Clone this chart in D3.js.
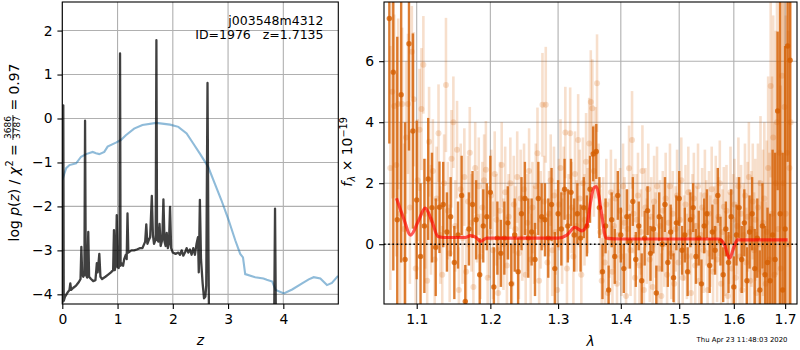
<!DOCTYPE html>
<html><head><meta charset="utf-8">
<script src="https://cdn.jsdelivr.net/npm/d3@7"></script>
<style>body{margin:0;background:#fff} text{font-family:"DejaVu Sans",sans-serif;fill:#000}</style>
</head><body><svg id="c" width="800" height="350"></svg>
<script>
// ---------- Left panel: log p(z) ----------
const zP = [0,0.010,0.018,0.026,0.05,0.10,0.13,0.145,0.16,0.20,0.25,0.30,0.33,0.345,0.36,0.38,0.40,0.412,0.425,0.45,0.47,0.485,0.52,0.56,0.60,0.625,0.64,0.67,0.69,0.72,0.78,0.83,0.88,0.92,0.935,0.95,0.97,0.985,1.00,1.02,1.035,1.045,1.055,1.08,1.10,1.12,1.15,1.165,1.18,1.195,1.25,1.30,1.35,1.40,1.45,1.50,1.52,1.54,1.57,1.59,1.62,1.64,1.66,1.69,1.703,1.715,1.74,1.76,1.78,1.81,1.83,1.85,1.87,1.89,1.91,1.93,1.95,1.97,2.00,2.05,2.10,2.13,2.16,2.19,2.22,2.25,2.28,2.31,2.34,2.37,2.40,2.43,2.455,2.47,2.49,2.51,2.54,2.565,2.59,2.605,2.628,2.645,2.665,2.70,3.80,3.835,3.85,3.865,3.90,5.0];
const logP = [-4.20,-4.15,0.30,-4.15,-4.05,-3.95,-3.90,-3.75,-3.90,-3.85,-3.80,-3.72,-3.65,-2.92,-3.55,-3.60,-3.55,-0.05,-3.55,-3.62,-2.58,-3.60,-3.65,-3.70,-3.68,-3.29,-3.50,-3.08,-3.60,-3.65,-3.60,-3.55,-3.50,-3.45,-2.54,-3.45,-3.30,-2.20,-3.38,-3.40,-3.30,1.48,-3.35,-3.30,-3.35,-3.20,-3.10,-3.20,-2.16,-3.05,-3.00,-3.00,-2.98,-2.95,-2.95,-2.80,-2.41,-2.85,-2.75,-2.70,-1.76,-2.65,-2.85,-2.75,1.78,-2.75,-2.80,-2.40,-2.90,-2.75,-1.84,-2.80,-2.90,-2.60,-2.95,-2.85,-2.01,-2.95,-3.05,-3.08,-3.05,-3.10,-3.00,-3.12,-3.05,-2.95,-3.05,-2.98,-3.10,-2.95,-3.10,-2.85,-2.70,-3.50,-1.85,-3.20,-3.75,-4.09,-4.05,-3.80,0.81,-3.0,-6.0,-9,-9,-4.5,-2.05,-4.5,-9,-9];
const zC = [0.0,0.07,0.13,0.25,0.34,0.43,0.55,0.61,0.67,0.76,0.82,0.97,1.06,1.15,1.30,1.45,1.70,1.95,2.10,2.25,2.37,2.49,2.64,2.76,2.88,3.01,3.13,3.22,3.27,3.31,3.49,3.64,3.70,3.80,3.86,4.01,4.16,4.34,4.46,4.55,4.67,4.79,4.88,4.99];
const chiC = [-1.40,-1.13,-1.06,-1.02,-0.87,-0.81,-0.76,-0.79,-0.81,-0.76,-0.64,-0.55,-0.49,-0.38,-0.23,-0.15,-0.10,-0.14,-0.19,-0.34,-0.57,-0.80,-1.10,-1.48,-1.86,-2.31,-2.77,-3.08,-3.16,-3.54,-3.61,-3.64,-3.67,-3.71,-3.90,-3.98,-3.89,-3.75,-3.66,-3.61,-3.64,-3.79,-3.74,-3.58];
const zTicks = [0,1,2,3,4];
const pTicks = [-4,-3,-2,-1,0,1,2];

// ---------- Right panel: spectrum ----------
const lamD = [1.065,1.070,1.075,1.080,1.085,1.090,1.095,1.100,1.105,1.110,1.115,1.120,1.125,1.130,1.135,1.140,1.145,1.150,1.155,1.160,1.165,1.170,1.175,1.180,1.185,1.190,1.195,1.200,1.205,1.210,1.215,1.220,1.225,1.230,1.235,1.240,1.245,1.250,1.255,1.260,1.265,1.270,1.275,1.280,1.285,1.290,1.295,1.300,1.305,1.310,1.315,1.320,1.325,1.330,1.335,1.340,1.345,1.350,1.355,1.360,1.365,1.370,1.375,1.380,1.385,1.390,1.395,1.400,1.405,1.410,1.415,1.420,1.425,1.430,1.435,1.440,1.445,1.450,1.455,1.460,1.465,1.470,1.475,1.480,1.485,1.490,1.495,1.500,1.505,1.510,1.515,1.520,1.525,1.530,1.535,1.540,1.545,1.550,1.555,1.560,1.565,1.570,1.575,1.580,1.585,1.590,1.595,1.600,1.605,1.610,1.615,1.620,1.625,1.630,1.635,1.640,1.645,1.650,1.655,1.660,1.665,1.670,1.675,1.680,1.685,1.690,1.695,1.700,1.705,1.710];
const fluxD = [7.4,5.64,0.8,4.9,-0.5,6.57,3.71,1.45,-0.4,0.6,2.14,1.2,-0.1,1.21,1.3,0.4,0.9,-0.6,0.3,1.6,-1.88,0.5,1.3,0.8,-1.0,0.6,0.9,1.7,-1.4,0.2,-0.3,0.2,0.7,-1.3,0.3,-0.9,1.0,1.5,0.2,0.4,-0.5,1.5,0.9,0.8,0.2,1.3,-0.8,1.0,0.5,1.8,0.6,1.7,0.3,1.0,0.2,1.2,0.6,1.8,2.96,3.04,1.2,-0.9,0.6,-1.5,0.8,-0.4,1.6,0.3,-0.8,0.9,0.1,1.4,-0.5,0.6,-1.2,0.2,1.1,-0.3,0.5,-1.6,0.9,0.0,1.3,-0.6,0.4,-1.1,0.7,1.5,-0.2,0.3,-0.9,0.8,1.2,-0.4,0.2,-1.3,0.6,1.0,-0.7,0.4,-0.2,1.6,0.1,-1.0,0.5,-0.6,0.9,-1.4,0.3,1.2,-0.5,0.7,-1.2,0.4,1.0,-0.8,0.2,-1.5,0.6,-1.0,-0.6,-1.2,0.3,-0.5,4.37,1.0,-1.5,0.5,6.5,6.03];
const errD = [4.1,6.5,6.0,5.5,4.5,3.5,3.2,2.6,2.4,2.2,2.0,1.8,1.6,1.5,1.4,1.3,1.3,1.2,1.1,1.3,1.2,1.2,1.1,1.3,1.2,1.2,1.1,1.2,1.3,1.2,1.1,1.2,1.2,1.3,1.2,1.1,1.2,1.2,1.3,1.1,1.2,1.2,1.1,1.2,1.3,1.2,1.2,1.1,1.2,1.0,1.2,1.1,1.2,1.0,1.1,1.0,1.0,1.1,0.9,0.9,1.0,0.9,0.9,0.8,0.9,0.9,0.8,0.9,0.8,0.9,0.9,0.8,0.9,0.8,0.9,0.9,0.8,0.9,0.8,0.9,0.8,0.9,0.9,0.8,0.9,0.8,0.9,0.9,0.8,0.9,0.8,0.9,0.8,0.9,0.9,0.8,0.9,0.8,0.9,0.9,0.8,0.9,0.8,0.9,0.9,1.0,0.9,1.0,1.0,1.0,1.1,1.1,1.1,1.2,1.2,1.3,1.3,1.3,1.4,1.6,1.8,2.2,2.8,3.5,2.6,7.5,4.5,6.0,3.8,8.0];
const lamL = [1.0662,1.0687,
1.0712,1.0737,1.0762,1.0787,1.0812,1.0837,1.0862,1.0887,1.0912,1.0937,1.0962,1.0987,
1.1012,1.1037,1.1062,1.1087,1.1112,1.1137,1.1162,1.1187,1.1212,1.1237,1.1262,1.1287,1.1312,1.1337,1.1362,1.1387,1.1412,1.1437,1.1462,1.1487,1.1512,1.1537,1.1562,1.1587,1.1612,1.1637,1.1662,1.1687,1.1712,1.1737,1.1762,1.1787,1.1812,1.1837,1.1862,1.1887,1.1912,1.1937,1.1962,1.1987,
1.2012,1.2037,1.2062,1.2087,1.2112,1.2137,1.2162,1.2187,1.2212,1.2237,1.2262,1.2287,1.2312,1.2337,1.2362,1.2387,1.2412,1.2437,1.2462,1.2487,1.2512,1.2537,1.2562,1.2587,1.2612,1.2637,1.2662,1.2687,1.2712,1.2737,1.2762,1.2787,1.2812,1.2837,1.2862,1.2887,1.2912,1.2937,1.2962,1.2987,
1.3012,1.3037,1.3062,1.3087,1.3112,1.3137,1.3162,1.3187,1.3212,1.3237,1.3262,1.3287,1.3312,1.3337,1.3362,1.3387,1.3412,1.3437,1.3462,1.3487,1.3512,1.3537,1.3562,1.3587,1.3612,1.3637,1.3662,1.3687,1.3712,1.3737,1.3762,1.3787,1.3812,1.3837,1.3862,1.3887,1.3912,1.3937,1.3962,1.3987,
1.4012,1.4037,1.4062,1.4087,1.4112,1.4137,1.4162,1.4187,1.4212,1.4237,1.4262,1.4287,1.4312,1.4337,1.4362,1.4387,1.4412,1.4437,1.4462,1.4487,1.4512,1.4537,1.4562,1.4587,1.4612,1.4637,1.4662,1.4687,1.4712,1.4737,1.4762,1.4787,1.4812,1.4837,1.4862,1.4887,1.4912,1.4937,1.4962,1.4987,
1.5012,1.5037,1.5062,1.5087,1.5112,1.5137,1.5162,1.5187,1.5212,1.5237,1.5262,1.5287,1.5312,1.5337,1.5362,1.5387,1.5412,1.5437,1.5462,1.5487,1.5512,1.5537,1.5562,1.5587,1.5612,1.5637,1.5662,1.5687,1.5712,1.5737,1.5762,1.5787,1.5812,1.5837,1.5862,1.5887,1.5912,1.5937,1.5962,1.5987,
1.6012,1.6037,1.6062,1.6087,1.6112,1.6137,1.6162,1.6187,1.6212,1.6237,1.6262,1.6287,1.6312,1.6337,1.6362,1.6387,1.6412,1.6437,1.6462,1.6487,1.6512,1.6537,1.6562,1.6587,1.6612,1.6637,1.6662,1.6687,1.6712,1.6737,1.6762,1.6787,1.6812,1.6837,1.6862,1.6887,1.6912,1.6937,1.6962,1.6987,
1.7012,1.7037,1.7062,1.7087,1.7112];
const fluxL = [2.5,5.0,
4.53,2.6,4.6,1.0, 4.6,0.5,3.5,4.6, 1.2,6.31,4.75,-0.8,
2.1,3.75,4.43,5.88, 1.0,-1.2,3.36,0.8, 2.4,-0.5,1.5,3.64, 0.3,-1.0,2.0,5.22, 1.1,-0.3,2.8,4.0, 0.6,3.1,-1.5,1.8, 0.2,2.2,-0.9,1.4, 3.0,0.7,-1.4,2.5, 0.9,1.9,-0.4,1.2, 2.1,2.44,-1.1,0.4,
1.6,-0.2,2.3,0.8, -1.6,1.1,2.6,0.0, 1.7,-0.7,0.9,2.0, -1.3,1.3,0.5,2.2, -0.3,1.5,0.2,1.8, -1.0,0.7,2.4,-0.5, 1.2,0.3,1.9,2.98, -1.2,0.8,4.57,1.4, 4.57,-0.6,1.0,2.1, -0.2,1.6,0.4,-1.5,
1.3,2.5,0.1,1.7, 3.66,-0.8,0.9,3.64, 1.2,-0.4,2.3,0.6, 3.42,1.5,-1.0,2.0, 0.8,2.7,1.1,3.3, 4.66,4.46,2.4,3.0, 5.28,1.9,0.4,-1.2, 0.9,-0.6,1.3,-1.6, 0.2,1.7,-0.9,0.6, 1.5,-1.3,0.3,1.1,
-0.4,1.9,0.7,-1.7, 0.5,2.49,-0.2,3.42, 1.0,-1.1,0.8,1.6, -0.7,0.4,2.4,-1.5, 1.2,0.1,1.8,-0.5, 0.9,-1.4,1.4,0.3, 1.9,-0.8,0.6,-1.7, 1.1,0.0,1.5,-1.0, 0.7,1.9,-0.3,1.0, -1.3,0.5,1.6,-0.6,
0.8,2.1,-1.1,0.2, 1.3,-0.4,1.7,0.4, -1.6,0.9,1.5,-0.7, 0.6,1.9,-1.2,0.3, 1.2,-0.2,1.6,0.7, -1.5,1.0,0.1,1.8, -0.9,0.5,1.4,-0.5, 0.9,2.0,-1.3,0.4, 1.23,-0.3,1.1,-1.7, 0.2,1.7,-0.8,0.8,
1.3,-1.1,0.6,1.9, -0.4,1.0,-1.5,0.3, 1.6,-0.6,0.9,2.2, -1.2,0.5,1.4,-0.2, 0.8,-1.6,1.2,0.0, 2.0,-0.9,0.7,1.5, -1.3,0.4,2.5,-0.5, 5.19,1.0,3.5,-1.0, 2.0,4.0,0.5,3.0, -0.8,5.52,2.0,4.5,
1.0,3.0,0.0,2.5, 4.0];
const errL = [4.0,3.5,
3.0,3.0,2.8,3.0, 2.5,2.8,2.5,2.3, 2.5,1.5,2.2,2.2,
2.0,2.0,2.0,1.6, 1.8,1.8,1.8,1.8, 1.7,1.7,1.7,1.6, 1.6,1.6,1.6,2.2, 1.6,1.6,1.6,1.5, 1.5,1.6,1.4,1.5, 1.5,1.6,1.4,1.5, 1.5,1.6,1.4,1.5, 1.5,1.6,1.4,1.5, 1.5,1.6,1.4,1.5,
1.5,1.6,1.4,1.5, 1.5,1.6,1.4,1.5, 1.5,1.6,1.4,1.5, 1.5,1.6,1.4,1.5, 1.5,1.6,1.4,1.5, 1.5,1.6,1.4,1.5, 1.5,1.6,1.4,1.5, 1.5,1.6,1.7,1.5, 1.9,1.6,1.4,1.5, 1.5,1.6,1.4,1.5,
1.5,1.6,1.4,1.5, 1.5,1.6,1.4,1.5, 1.5,1.6,1.4,1.5, 1.5,1.6,1.4,1.5, 1.5,1.6,1.4,1.5, 1.7,1.6,1.5,1.5, 1.6,1.4,1.4,1.4, 1.3,1.4,1.5,1.4, 1.3,1.4,1.5,1.4, 1.3,1.4,1.5,1.4,
1.3,1.4,1.5,1.4, 1.3,1.4,1.5,1.6, 1.3,1.4,1.5,1.4, 1.3,1.4,1.5,1.4, 1.3,1.4,1.5,1.4, 1.3,1.4,1.5,1.4, 1.3,1.4,1.5,1.4, 1.3,1.4,1.5,1.4, 1.3,1.4,1.5,1.4, 1.3,1.4,1.5,1.4,
1.3,1.4,1.5,1.4, 1.3,1.4,1.5,1.4, 1.3,1.4,1.5,1.4, 1.3,1.4,1.5,1.4, 1.3,1.4,1.5,1.4, 1.3,1.4,1.5,1.4, 1.3,1.4,1.5,1.4, 1.3,1.4,1.5,1.4, 1.3,1.4,1.5,1.4, 1.5,1.5,1.5,1.5,
1.5,1.5,1.6,1.6, 1.6,1.6,1.7,1.7, 1.7,1.8,1.8,1.8, 1.8,1.9,1.9,1.9, 2.0,2.0,2.1,2.1, 2.2,2.3,2.4,2.5, 2.7,3.0,3.0,3.5, 3.0,4.5,4.0,5.0, 5.0,5.0,5.5,6.0, 6.0,5.0,6.0,6.0,
6.5,7.0,7.0,7.0, 7.0];
const lamM = [1.074,1.083,1.092,1.102,1.111,1.120,1.128,1.135,1.150,1.165,1.172,1.180,1.186,1.195,1.220,1.260,1.300,1.3135,1.326,1.337,1.345,1.351,1.356,1.360,1.364,1.368,1.376,1.40,1.45,1.50,1.55,1.571,1.582,1.592,1.600,1.607,1.65,1.705];
const fluxM = [1.51,0.86,0.30,0.75,1.18,0.75,0.25,0.22,0.22,0.22,0.28,0.22,0.09,0.20,0.20,0.20,0.20,0.30,0.55,0.44,0.63,1.40,1.85,1.89,1.60,1.07,0.20,0.17,0.17,0.17,0.17,0.17,0.00,-0.46,-0.10,0.14,0.14,0.14];
const lamTicks = [1.1,1.2,1.3,1.4,1.5,1.6,1.7];
const fTicks = [0,2,4,6];

// ---------- Drawing ----------
const svg = d3.select('#c');
const FS = 13.9, TL = 4.9, GRID = '#b0b0b0';
const defs = svg.append('defs');

function panel(id, x, y, xt, yt, xf, yf) {
  const [x0, x1] = x.range(), [y1, y0] = y.range();
  defs.append('clipPath').attr('id', id).append('rect')
    .attr('x', x0).attr('y', y0).attr('width', x1 - x0).attr('height', y1 - y0);
  const g = svg.append('g');
  g.append('g').selectAll('line').data(xt).join('line')
    .attr('x1', d => x(d)).attr('x2', d => x(d)).attr('y1', y0).attr('y2', y1)
    .attr('stroke', GRID).attr('stroke-width', 1.1);
  g.append('g').selectAll('line').data(yt).join('line')
    .attr('y1', d => y(d)).attr('y2', d => y(d)).attr('x1', x0).attr('x2', x1)
    .attr('stroke', GRID).attr('stroke-width', 1.1);
  const data = g.append('g').attr('clip-path', `url(#${id})`);
  return {g, data, x0, x1, y0, y1, x, y, xt, yt, xf, yf};
}
function finish(p) {
  const ax = svg.append('g').attr('transform', `translate(0,${p.y1})`)
    .call(d3.axisBottom(p.x).tickValues(p.xt).tickFormat(p.xf).tickSize(TL).tickPadding(TL));
  const ay = svg.append('g').attr('transform', `translate(${p.x0},0)`)
    .call(d3.axisLeft(p.y).tickValues(p.yt).tickFormat(p.yf).tickSize(TL).tickPadding(TL));
  [ax, ay].forEach(a => {
    a.select('.domain').remove();
    a.selectAll('line').attr('stroke', '#000').attr('stroke-width', 1.1);
    a.selectAll('text').attr('font-size', FS).attr('font-family', '"DejaVu Sans",sans-serif').attr('fill', '#000');
  });
  ax.selectAll('text').attr('y', 10.2);
  svg.append('rect').attr('x', p.x0).attr('y', p.y0).attr('width', p.x1 - p.x0).attr('height', p.y1 - p.y0)
    .attr('fill', 'none').attr('stroke', '#000').attr('stroke-width', 1.1);
}

// Left
const xz = d3.scaleLinear().domain([0, 4.995]).range([62.3, 338.3]);
const yp = d3.scaleLinear().domain([-4.22, 2.65]).range([304, 2]);
const PL = panel('clipL', xz, yp, zTicks, pTicks, d3.format('d'), d3.format('d'));
PL.data.append('path').datum(d3.range(zC.length))
  .attr('d', d3.line().x(i => xz(zC[i])).y(i => yp(chiC[i])))
  .attr('fill', 'none').attr('stroke', '#1f77b4').attr('stroke-opacity', 0.5).attr('stroke-width', 2.1);
PL.data.append('path').datum(d3.range(zP.length))
  .attr('d', d3.line().x(i => xz(zP[i])).y(i => yp(logP[i])))
  .attr('fill', 'none').attr('stroke', '#000').attr('stroke-opacity', 0.75).attr('stroke-width', 2.3)
  .attr('stroke-linejoin', 'round');
finish(PL);
svg.append('text').attr('x', 323.5).attr('y', 24.5).attr('text-anchor', 'end').attr('font-size', 12.5).text('j003548m4312');
svg.append('text').attr('x', 323.5).attr('y', 39).attr('text-anchor', 'end').attr('font-size', 12.5).text('ID=1976\u00a0\u00a0\u00a0z=1.7135');
svg.append('text').attr('x', 200.3).attr('y', 345).attr('text-anchor', 'middle').attr('font-size', FS).attr('font-style', 'italic').text('z');

// Right
const xl = d3.scaleLog().domain([1.0583, 1.724]).range([384, 797]);
const yf = d3.scaleLinear().domain([-1.96, 7.94]).range([304, 2]);
const PR = panel('clipR', xl, yf, lamTicks, fTicks, d3.format('.1f'), d3.format('d'));
const OR = '#d55e00';
const nL = Math.min(lamL.length, fluxL.length, errL.length);
const iL = d3.range(nL);
PR.data.append('g').selectAll('line').data(iL).join('line')
  .attr('x1', i => xl(lamL[i])).attr('x2', i => xl(lamL[i]))
  .attr('y1', i => yf(fluxL[i] - errL[i])).attr('y2', i => yf(fluxL[i] + errL[i]))
  .attr('stroke', OR).attr('stroke-opacity', 0.2).attr('stroke-width', 2.6);
PR.data.append('g').selectAll('circle').data(iL).join('circle')
  .attr('cx', i => xl(lamL[i])).attr('cy', i => yf(fluxL[i])).attr('r', 3)
  .attr('fill', OR).attr('fill-opacity', 0.2);
const nD = Math.min(lamD.length, fluxD.length, errD.length);
const iD = d3.range(nD);
PR.data.append('g').selectAll('line').data(iD).join('line')
  .attr('x1', i => xl(lamD[i])).attr('x2', i => xl(lamD[i]))
  .attr('y1', i => yf(fluxD[i] - errD[i])).attr('y2', i => yf(fluxD[i] + errD[i]))
  .attr('stroke', OR).attr('stroke-opacity', 0.8).attr('stroke-width', 2.4);
PR.data.append('g').selectAll('circle').data(iD).join('circle')
  .attr('cx', i => xl(lamD[i])).attr('cy', i => yf(fluxD[i])).attr('r', 2.7)
  .attr('fill', OR).attr('fill-opacity', 0.8);
PR.data.append('path').datum(d3.range(lamM.length))
  .attr('d', d3.line().curve(d3.curveMonotoneX).x(i => xl(lamM[i])).y(i => yf(fluxM[i])))
  .attr('fill', 'none').attr('stroke', 'red').attr('stroke-opacity', 0.65).attr('stroke-width', 3.2);
PR.data.append('line').attr('x1', 384).attr('x2', 797).attr('y1', yf(0)).attr('y2', yf(0))
  .attr('stroke', '#000').attr('stroke-width', 1.6).attr('stroke-dasharray', '1.6,2.6');
finish(PR);
svg.append('text').attr('x', 590.5).attr('y', 346).attr('text-anchor', 'middle').attr('font-size', FS).attr('font-style', 'italic').text('λ');
svg.append('text').attr('x', 787.5).attr('y', 342).attr('text-anchor', 'end').attr('font-size', 6.9).text('Thu Apr 23 11:48:03 2020');

// Rotated y labels
function rotGroup(tx, cy, build) {
  const g = svg.append('g');
  const w = build(g);
  g.attr('transform', `translate(${tx},${cy + w / 2}) rotate(-90)`);
}
rotGroup(18.5, 152.5, g => {
  const t = g.append('text').attr('font-size', FS);
  t.append('tspan').text('log ');
  t.append('tspan').attr('font-style', 'italic').text('p');
  t.append('tspan').text('(');
  t.append('tspan').attr('font-style', 'italic').text('z');
  t.append('tspan').text(') / ');
  t.append('tspan').attr('font-style', 'italic').text('χ');
  let w = t.node().getComputedTextLength();
  const s = g.append('text').attr('x', w + 0.5).attr('y', -5.5).attr('font-size', 9.7).text('2');
  w += s.node().getComputedTextLength() + 0.5;
  const e1 = g.append('text').attr('x', w).attr('font-size', FS).text('\u00a0=\u00a0');
  w += e1.node().getComputedTextLength();
  const num = g.append('text').attr('y', -7.5).attr('font-size', 9).attr('text-anchor', 'middle').text('3686');
  const den = g.append('text').attr('y', 1.8).attr('font-size', 9).attr('text-anchor', 'middle').text('3787');
  const fw = Math.max(num.node().getComputedTextLength(), den.node().getComputedTextLength()) + 2;
  num.attr('x', w + fw / 2); den.attr('x', w + fw / 2);
  g.append('line').attr('x1', w).attr('x2', w + fw).attr('y1', -5.6).attr('y2', -5.6).attr('stroke', '#000').attr('stroke-width', 0.8);
  w += fw;
  const e2 = g.append('text').attr('x', w).attr('font-size', FS).text('\u00a0=\u00a00.97');
  w += e2.node().getComputedTextLength();
  return w;
});
rotGroup(352, 152, g => {
  const t = g.append('text').attr('font-size', FS).attr('font-style', 'italic').text('f');
  let w = t.node().getComputedTextLength() + 0.5;
  const s = g.append('text').attr('x', w).attr('y', 3).attr('font-size', 9.7).attr('font-style', 'italic').text('λ');
  w += s.node().getComputedTextLength();
  const m = g.append('text').attr('x', w).attr('font-size', FS).text('\u00a0×\u00a010');
  w += m.node().getComputedTextLength();
  const e = g.append('text').attr('x', w).attr('y', -5.5).attr('font-size', 9.7).text('−19');
  w += e.node().getComputedTextLength();
  return w;
});
</script></body></html>
